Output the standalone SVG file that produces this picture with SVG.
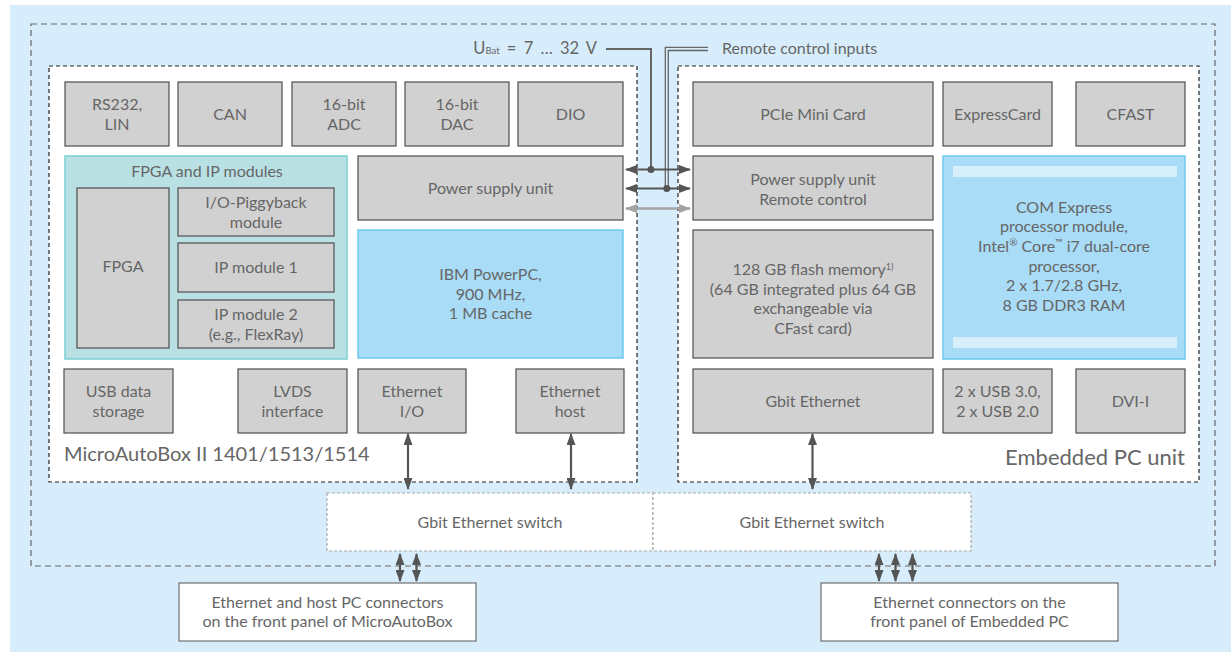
<svg xmlns="http://www.w3.org/2000/svg" width="1231" height="652" viewBox="0 0 1231 652">
<defs>
<style>
.t{font-family:"Lato","Open Sans","Liberation Sans",sans-serif;font-size:16px;fill:#666;text-anchor:middle}
.big{font-size:20px;text-anchor:start}
.box{fill:#d1d1d1;stroke:#4d4d4d;stroke-width:1.2}
.blue{fill:#a9dcf7;stroke:#6dcaf1;stroke-width:1.5}
.teal{fill:#b9e1e4;stroke:#7acfd2;stroke-width:1.5}
.panel{fill:#fff;stroke:#222;stroke-width:1.2;stroke-dasharray:4 3}
.sw{fill:#fff;stroke:#aaa;stroke-width:1.2;stroke-dasharray:3 2}
.wb{fill:#fff;stroke:#555;stroke-width:1}
.ar{stroke:#555;stroke-width:2.2;fill:none;marker-start:url(#ah);marker-end:url(#ah)}
.arl{stroke:#a3a3a3;stroke-width:2.5;fill:none;marker-start:url(#ahl);marker-end:url(#ahl)}
.ln{stroke:#666;fill:none}
</style>
<marker id="ah" viewBox="0 0 12 9" refX="11" refY="4.5" markerWidth="12" markerHeight="9" markerUnits="userSpaceOnUse" orient="auto-start-reverse"><path d="M0,0 L12,4.5 L0,9 z" fill="#555"/></marker>
<marker id="ahl" viewBox="0 0 12 9" refX="11" refY="4.5" markerWidth="12" markerHeight="9" markerUnits="userSpaceOnUse" orient="auto-start-reverse"><path d="M0,0 L12,4.5 L0,9 z" fill="#a3a3a3"/></marker>
</defs>
<rect x="10" y="5" width="1221" height="647" fill="#d7edfb"/>
<rect x="31" y="24" width="1184" height="542" fill="none" stroke="#666" stroke-width="1.2" stroke-dasharray="6 4"/>

<g id="microautobox">
<rect class="panel" x="49" y="66" width="588" height="416"/>
<text class="t big" x="64" y="461">MicroAutoBox II 1401/1513/1514</text>
</g>
<g id="embeddedpc">
<rect class="panel" x="678" y="66" width="521" height="416"/>
<text class="t big" x="1185" y="465" style="text-anchor:end;font-size:22px">Embedded PC unit</text>
</g>

<g id="rs232"><rect class="box" x="65" y="82" width="104" height="64"/><text class="t" x="117" y="110">RS232,</text><text class="t" x="117" y="129.5">LIN</text></g>
<g id="can"><rect class="box" x="178" y="82" width="104" height="64"/><text class="t" x="230" y="119.5">CAN</text></g>
<g id="adc"><rect class="box" x="292" y="82" width="104" height="64"/><text class="t" x="344" y="110">16-bit</text><text class="t" x="344" y="129.5">ADC</text></g>
<g id="dac"><rect class="box" x="405" y="82" width="104" height="64"/><text class="t" x="457" y="110">16-bit</text><text class="t" x="457" y="129.5">DAC</text></g>
<g id="dio"><rect class="box" x="518" y="82" width="105" height="64"/><text class="t" x="570.5" y="119.5">DIO</text></g>

<g id="fpga-group">
<rect class="teal" x="65" y="156" width="282" height="203"/>
<text class="t" x="207" y="177">FPGA and IP modules</text>
</g>
<g id="fpga"><rect class="box" x="77" y="188" width="92" height="160"/><text class="t" x="123" y="272">FPGA</text></g>
<g id="piggyback"><rect class="box" x="178" y="188" width="156" height="48"/><text class="t" x="256" y="208">I/O-Piggyback</text><text class="t" x="256" y="228">module</text></g>
<g id="ipmodule1"><rect class="box" x="178" y="243" width="156" height="49"/><text class="t" x="256" y="273">IP module 1</text></g>
<g id="ipmodule2"><rect class="box" x="178" y="300" width="156" height="48"/><text class="t" x="256" y="320">IP module 2</text><text class="t" x="256" y="340">(e.g., FlexRay)</text></g>

<g id="psu-left"><rect class="box" x="358" y="156" width="265" height="64"/><text class="t" x="490.5" y="194">Power supply unit</text></g>
<g id="powerpc"><rect class="blue" x="358" y="230" width="265" height="128"/><text class="t" x="490.5" y="280">IBM PowerPC,</text><text class="t" x="490.5" y="299.5">900 MHz,</text><text class="t" x="490.5" y="319">1 MB cache</text></g>

<g id="usbstorage"><rect class="box" x="64" y="369" width="109" height="64"/><text class="t" x="118.5" y="397">USB data</text><text class="t" x="118.5" y="416.5">storage</text></g>
<g id="lvds"><rect class="box" x="238" y="369" width="109" height="64"/><text class="t" x="292.5" y="397">LVDS</text><text class="t" x="292.5" y="416.5">interface</text></g>
<g id="eth-io"><rect class="box" x="358" y="369" width="108" height="64"/><text class="t" x="412" y="397">Ethernet</text><text class="t" x="412" y="416.5">I/O</text></g>
<g id="eth-host"><rect class="box" x="516" y="369" width="108" height="64"/><text class="t" x="570" y="397">Ethernet</text><text class="t" x="570" y="416.5">host</text></g>

<g id="pcie"><rect class="box" x="693" y="82" width="240" height="64"/><text class="t" x="813" y="119.5">PCIe Mini Card</text></g>
<g id="expresscard"><rect class="box" x="943" y="82" width="109" height="64"/><text class="t" x="997.5" y="119.5">ExpressCard</text></g>
<g id="cfast"><rect class="box" x="1076" y="82" width="109" height="64"/><text class="t" x="1130.5" y="119.5">CFAST</text></g>

<g id="psu-right"><rect class="box" x="693" y="156" width="240" height="64"/><text class="t" x="813" y="185">Power supply unit</text><text class="t" x="813" y="205">Remote control</text></g>
<g id="flash"><rect class="box" x="693" y="230" width="240" height="128"/>
<text class="t" x="813" y="275">128 GB flash memory<tspan font-size="9" baseline-shift="super">1)</tspan></text>
<text class="t" x="813" y="294.5">(64 GB integrated plus 64 GB</text>
<text class="t" x="813" y="314">exchangeable via</text>
<text class="t" x="813" y="333.5">CFast card)</text></g>
<g id="gbit-eth"><rect class="box" x="693" y="369" width="240" height="64"/><text class="t" x="813" y="406.5">Gbit Ethernet</text></g>

<g id="comexpress"><rect class="blue" x="943" y="156" width="242" height="203"/>
<rect x="953" y="166" width="224" height="11" fill="#d7eefb"/>
<rect x="953" y="337" width="224" height="11" fill="#d7eefb"/>
<text class="t" x="1064" y="212.5">COM Express</text>
<text class="t" x="1064" y="232.2">processor module,</text>
<text class="t" x="1064" y="251.9">Intel<tspan font-size="10" baseline-shift="super">®</tspan> Core<tspan font-size="10" baseline-shift="super">™</tspan> i7 dual-core</text>
<text class="t" x="1064" y="271.6">processor,</text>
<text class="t" x="1064" y="291.3">2 x 1.7/2.8 GHz,</text>
<text class="t" x="1064" y="311">8 GB DDR3 RAM</text></g>

<g id="usb"><rect class="box" x="943" y="369" width="109" height="64"/><text class="t" x="997.5" y="397">2 x USB 3.0,</text><text class="t" x="997.5" y="416.5">2 x USB 2.0</text></g>
<g id="dvi"><rect class="box" x="1076" y="369" width="109" height="64"/><text class="t" x="1130.5" y="406.5">DVI-I</text></g>

<g id="switch1"><rect class="sw" x="327" y="493" width="326" height="58"/><text class="t" x="490" y="528">Gbit Ethernet switch</text></g>
<g id="switch2"><rect class="sw" x="653" y="493" width="318" height="58"/><text class="t" x="812" y="528">Gbit Ethernet switch</text></g>

<g id="front-mab"><rect class="wb" x="179" y="583" width="297" height="58"/><text class="t" x="327.5" y="607.5">Ethernet and host PC connectors</text><text class="t" x="327.5" y="627">on the front panel of MicroAutoBox</text></g>
<g id="front-epc"><rect class="wb" x="821" y="583" width="297" height="58"/><text class="t" x="969.5" y="607.5">Ethernet connectors on the</text><text class="t" x="969.5" y="627">front panel of Embedded PC</text></g>

<g id="supply-labels">
<text class="t" x="597" y="54" style="text-anchor:end;word-spacing:3px;font-size:16.5px">U<tspan font-size="9.5">Bat</tspan> = 7 … 32 V</text>
<text class="t" x="722" y="54" style="text-anchor:start">Remote control inputs</text>
</g>

<g id="connectors">
<path class="ln" stroke-width="2" d="M606,49 H651 V169.5"/>
<path class="ln" stroke-width="1.3" d="M708,47.3 H665.3 V188.5"/>
<path class="ln" stroke-width="1.3" d="M708,50.5 H668.3 V188.5"/>
<line class="ar" x1="626" y1="169.5" x2="690" y2="169.5" stroke-width="2.8"/>
<line class="ar" x1="626" y1="188.5" x2="690" y2="188.5" stroke-width="2.8"/>
<line class="arl" x1="626" y1="208.5" x2="690" y2="208.5"/>
<circle cx="651" cy="169.5" r="3.5" fill="#555"/>
<circle cx="666.8" cy="188.5" r="3.5" fill="#555"/>
<line class="ar" x1="408" y1="434" x2="408" y2="489"/>
<line class="ar" x1="571" y1="434" x2="571" y2="489"/>
<line class="ar" x1="812.5" y1="434" x2="812.5" y2="489"/>
<line class="ar" x1="400" y1="554" x2="400" y2="581"/>
<line class="ar" x1="416.5" y1="554" x2="416.5" y2="581"/>
<line class="ar" x1="879" y1="554" x2="879" y2="581"/>
<line class="ar" x1="895.5" y1="554" x2="895.5" y2="581"/>
<line class="ar" x1="912.5" y1="554" x2="912.5" y2="581"/>
</g>
</svg>
